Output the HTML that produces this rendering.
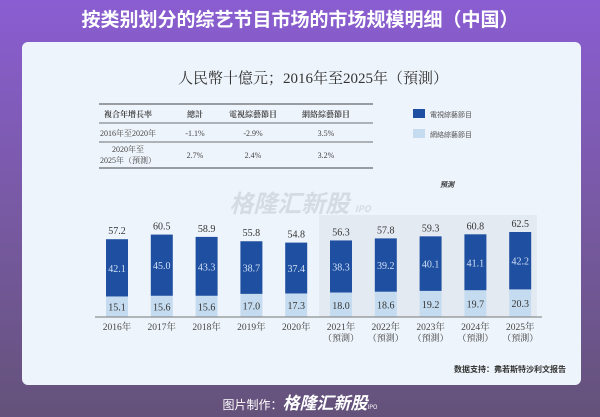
<!DOCTYPE html>
<html><head><meta charset="utf-8"><style>
body{margin:0;width:600px;height:417px;overflow:hidden;font-family:"Liberation Sans","Noto Sans CJK SC",sans-serif;}
#bg{position:absolute;left:0;top:0;width:600px;height:417px;background:linear-gradient(180deg,#8a5dd2 0%,#7a5aa8 45%,#64527a 100%);}
</style></head><body>
<div id="bg"></div>
<svg width="600" height="417" style="position:absolute;left:0;top:0">
<text x="300" y="26" text-anchor="middle" font-size="19" font-weight="bold" fill="#fff" font-family="Noto Sans CJK SC,sans-serif">按类别划分的综艺节目市场的市场规模明细（中国）</text>
<rect x="22" y="42" width="559" height="343" rx="6" fill="#eef4fb"/>
<text x="313" y="83" text-anchor="middle" font-size="15" fill="#333" font-family="Liberation Serif,Noto Serif CJK SC,serif">人民幣十億元；2016年至2025年（預測）</text>
<g font-size="8" fill="#444" font-family="Liberation Serif,Noto Serif CJK SC,serif" text-anchor="middle">
<line x1="99" y1="104" x2="373" y2="104" stroke="#444" stroke-width="1"/>
<line x1="99" y1="123" x2="373" y2="123" stroke="#444" stroke-width="0.8"/>
<line x1="99" y1="142" x2="373" y2="142" stroke="#444" stroke-width="0.8"/>
<line x1="99" y1="168" x2="373" y2="168" stroke="#444" stroke-width="1"/>
<text x="128" y="117" font-weight="bold">複合年增長率</text><text x="195" y="117" font-weight="bold">總計</text><text x="253" y="117" font-weight="bold">電視綜藝節目</text><text x="326" y="117" font-weight="bold">網絡綜藝節目</text>
<text x="128" y="136">2016年至2020年</text><text x="195" y="136">-1.1%</text><text x="253" y="136">-2.9%</text><text x="326" y="136">3.5%</text>
<text x="128" y="152">2020年至</text><text x="128" y="163">2025年（預測）</text><text x="195" y="158">2.7%</text><text x="253" y="158">2.4%</text><text x="326" y="158">3.2%</text>
</g>
<g font-size="7" fill="#555" font-family="Noto Sans CJK SC,sans-serif">
<rect x="413" y="109" width="12" height="9" fill="#1f4fa0"/><text x="430" y="117">電視綜藝節目</text>
<rect x="413" y="129" width="12" height="9" fill="#c5dcf0"/><text x="430" y="137">網絡綜藝節目</text>
</g>
<text x="440" y="187" font-size="7" font-style="italic" font-weight="bold" fill="#333" font-family="Noto Sans CJK SC,sans-serif">預測</text>
<text x="300" y="212" text-anchor="middle" font-size="24" font-weight="bold" font-style="italic" fill="#d5dbe3" font-family="Noto Sans CJK SC,sans-serif">格隆汇新股 <tspan font-size="9">IPO</tspan></text>
<rect x="319" y="215" width="218" height="102" fill="#e4eaf2"/>
<g id="bars"></g>
<line x1="95" y1="317" x2="542" y2="317" stroke="#777" stroke-width="1"/>
<text x="566" y="372" text-anchor="end" font-size="8" font-weight="bold" fill="#333" font-family="Noto Sans CJK SC,sans-serif">数据支持：弗若斯特沙利文报告</text>
<text x="300" y="409" text-anchor="middle" font-size="12" fill="#fff" font-family="Noto Sans CJK SC,sans-serif">图片制作：<tspan font-size="17" font-weight="bold" font-style="italic">格隆汇新股</tspan><tspan font-size="6">IPO</tspan></text>
</svg>
<script>
const years=["2016年","2017年","2018年","2019年","2020年","2021年","2022年","2023年","2024年","2025年"];
const forecast=[false,false,false,false,false,true,true,true,true,true];
const tvValues=[42.1,45.0,43.3,38.7,37.4,38.3,39.2,40.1,41.1,42.2];
const webValues=[15.1,15.6,15.6,17.0,17.3,18.0,18.6,19.2,19.7,20.3];
const totals=[57.2,60.5,58.9,55.8,54.8,56.3,57.8,59.3,60.8,62.5];
const ns="http://www.w3.org/2000/svg";
const g=document.getElementById('bars');
const base=317,k=1.36,x0=117,step=44.8,bw=22;
const yS=v=>base-v*k;
const xS=i=>x0+i*step;
function mk(t,a,txt){const e=document.createElementNS(ns,t);for(const n in a)e.setAttribute(n,a[n]);if(txt!=null)e.textContent=txt;g.appendChild(e);return e;}
const serif="Liberation Serif,Noto Serif CJK SC,serif";
years.forEach((y,i)=>{
 const cx=xS(i),w=webValues[i],t=tvValues[i];
 const r1=mk('rect',{x:cx-bw/2,y:yS(w),width:bw,height:base-yS(w),fill:'#c5dcf0'});
 
 
 const r2=mk('rect',{x:cx-bw/2,y:yS(w+t),width:bw,height:yS(w)-yS(w+t),fill:'#1f4fa0'});
 
 
 const l1=mk('text',{x:cx,y:(yS(w)+base)/2+4,'text-anchor':'middle','font-size':10,fill:'#333','font-family':serif},w.toFixed(1));
 
 
 const l2=mk('text',{x:cx,y:(yS(w)+yS(w+t))/2+4,'text-anchor':'middle','font-size':10,fill:'#cfe0f5','font-family':serif},t.toFixed(1));
 
 
 const l3=mk('text',{x:cx,y:yS(w+t)-5,'text-anchor':'middle','font-size':10,fill:'#333','font-family':serif},totals[i].toFixed(1));
 
 
 const l4=mk('text',{x:cx,y:330,'text-anchor':'middle','font-size':9.5,fill:'#444','font-family':serif},y);
 
 
 if(forecast[i]){const l5=mk('text',{x:cx,y:341,'text-anchor':'middle','font-size':9,fill:'#444','font-family':serif},'（預測）');
 
 }
});
</script>
</body></html>
